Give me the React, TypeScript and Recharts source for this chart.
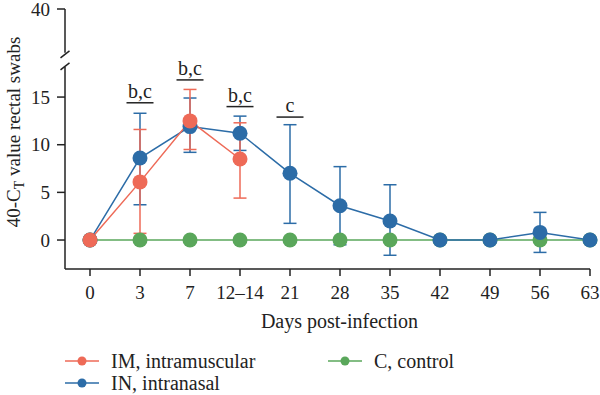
import React from "react";
import {
	ComposedChart,
	Line,
	XAxis,
	YAxis,
	ErrorBar,
	ReferenceLine,
	ReferenceDot,
} from "recharts";

// categories (evenly spaced on the x axis)
const DAY_LABELS = ["0", "3", "7", "12–14", "21", "28", "35", "42", "49", "56", "63"];

// IM, intramuscular (only sampled up to 12–14)
const IM_MEAN = [0, 6.1, 12.5, 8.5];
const IM_LOW = [0, 0.7, 9.5, 4.4];
const IM_HIGH = [0, 11.6, 15.8, 12.3];

// IN, intranasal
const IN_MEAN = [0, 8.6, 11.9, 11.2, 7.0, 3.6, 2.0, 0, 0, 0.8, 0];
const IN_LOW = [0, 3.7, 9.2, 9.4, 1.75, -0.5, -1.6, 0, 0, -1.3, 0];
const IN_HIGH = [0, 13.3, 14.9, 13.0, 12.1, 7.7, 5.8, 0, 0, 2.9, 0];

// C, control
const C_MEAN = [0, 0, 0, 0, 0, 0, 0, 0, 0, 0, 0];

// significance letters above the groups
const ANNOT_INDEX = [1, 2, 3, 4];
const ANNOT_TEXT = ["b,c", "b,c", "b,c", "c"];
const ANNOT_Y = [14.4, 16.8, 14.0, 12.9];

// y ticks; the top one stands for 40 above the axis break
const Y_TICKS = [0, 5, 10, 15];
const Y_MIN = -3.04;
const Y_TOP = 24.24; // position of the "40" tick
const BREAK_MID = 18.9;
const BREAK_GAP = 0.75;

const FONT = "'Liberation Serif', serif";
const RED = "#EE6A57";
const BLUE = "#2C6CA7";
const GREEN = "#5AA75B";
const AXIS = "#222";

const SERIES = [
	{ name: "IM, intramuscular", color: RED },
	{ name: "IN, intranasal", color: BLUE },
	{ name: "C, control", color: GREEN },
];

const imData = IM_MEAN.map((v, i) => ({ idx: i, value: v, err: [v - IM_LOW[i], IM_HIGH[i] - v] }));
const inData = IN_MEAN.map((v, i) => ({ idx: i, value: v, err: [v - IN_LOW[i], IN_HIGH[i] - v] }));
const cData = C_MEAN.map((v, i) => ({ idx: i, value: v }));

const tickStyle = { fontSize: 19, fill: AXIS, fontFamily: FONT };

const YTitle = (props: any) => {
	const vb = props.viewBox || { y: 9, height: 260 };
	const cy = vb.y + vb.height / 2 - 7;
	return (
		<text
			x={20}
			y={cy}
			transform={`rotate(-90 20 ${cy})`}
			textAnchor="middle"
			fontSize={19}
			fill={AXIS}
			fontFamily={FONT}
		>
			<tspan>40-C</tspan>
			<tspan dy={4} fontSize={14}>T</tspan>
			<tspan dy={-4}> value rectal swabs</tspan>
		</text>
	);
};

const AxisBreak = (props: any) => {
	const { cx, cy } = props;
	return (
		<g stroke={AXIS} strokeWidth={1.5}>
			<line x1={cx - 4.5} y1={cy - 2} x2={cx + 4.5} y2={cy - 9} />
			<line x1={cx - 4.5} y1={cy + 10} x2={cx + 4.5} y2={cy + 3} />
		</g>
	);
};

const makeAnnot = (text: string) => (props: any) => {
	const { cx, cy } = props;
	return (
		<g>
			<line x1={cx - 13.5} y1={cy} x2={cx + 13.5} y2={cy} stroke={AXIS} strokeWidth={1.5} />
			<text x={cx} y={cy - 5} textAnchor="middle" fontSize={20} fill={AXIS} fontFamily={FONT}>
				{text}
			</text>
		</g>
	);
};

const LegendItem = ({ name, color }: { name: string; color: string }) => (
	<div style={{ display: "flex", alignItems: "center", height: 22 }}>
		<svg width={34} height={12} style={{ marginRight: 12 }}>
			<line x1={0} y1={6} x2={34} y2={6} stroke={color} strokeWidth={1.5} />
			<circle cx={17} cy={6} r={4.5} fill={color} />
		</svg>
		<span style={{ fontSize: 20, color: AXIS, fontFamily: FONT }}>{name}</span>
	</div>
);

export default function App() {
	return (
		<div style={{ position: "absolute", left: 0, top: 0, width: 600, height: 395, background: "#fff", fontFamily: FONT }}>
			<ComposedChart width={600} height={395} margin={{ top: 9, right: 10, left: 0, bottom: 67 }}>
				<XAxis
					type="number"
					dataKey="idx"
					domain={[-0.5, 10]}
					ticks={DAY_LABELS.map((_, i) => i)}
					tickFormatter={(v: number) => DAY_LABELS[v]}
					interval={0}
					height={59}
					stroke={AXIS}
					strokeWidth={1.5}
					tickSize={7}
					tickMargin={10}
					tick={tickStyle}
					label={{ value: "Days post-infection", position: "insideBottom", offset: 0, dx: 12, fontSize: 20, fill: AXIS, fontFamily: FONT }}
				/>
				<YAxis
					type="number"
					domain={[Y_MIN, Y_TOP]}
					ticks={[...Y_TICKS, Y_TOP]}
					tickFormatter={(v: number) => (v === Y_TOP ? "40" : String(v))}
					interval={0}
					width={65}
					axisLine={false}
					stroke={AXIS}
					tickLine={{ stroke: AXIS, strokeWidth: 1.5 }}
					tickSize={8}
					tickMargin={7}
					tick={tickStyle}
					label={<YTitle />}
				/>

				{/* broken y axis line */}
				<ReferenceLine
					segment={[{ x: -0.5, y: Y_MIN }, { x: -0.5, y: BREAK_MID - BREAK_GAP }]}
					stroke={AXIS}
					strokeWidth={1.5}
					ifOverflow="visible"
				/>
				<ReferenceLine
					segment={[{ x: -0.5, y: BREAK_MID + BREAK_GAP }, { x: -0.5, y: Y_TOP }]}
					stroke={AXIS}
					strokeWidth={1.5}
					ifOverflow="visible"
				/>
				<ReferenceDot x={-0.5} y={BREAK_MID} ifOverflow="visible" shape={AxisBreak} />

				<Line
					data={cData}
					dataKey="value"
					stroke={GREEN}
					strokeWidth={1.5}
					dot={{ r: 7.5, fill: GREEN, stroke: GREEN, strokeWidth: 0 }}
					isAnimationActive={false}
				/>
				<Line
					data={inData}
					dataKey="value"
					stroke={BLUE}
					strokeWidth={1.5}
					dot={{ r: 7.5, fill: BLUE, stroke: BLUE, strokeWidth: 0 }}
					isAnimationActive={false}
				>
					<ErrorBar dataKey="err" direction="y" width={6.5} stroke={BLUE} strokeWidth={1.5} isAnimationActive={false} />
				</Line>
				<Line
					data={imData}
					dataKey="value"
					stroke={RED}
					strokeWidth={1.5}
					dot={{ r: 7.5, fill: RED, stroke: RED, strokeWidth: 0 }}
					isAnimationActive={false}
				>
					<ErrorBar dataKey="err" direction="y" width={6.5} stroke={RED} strokeWidth={1.5} isAnimationActive={false} />
				</Line>

				{ANNOT_INDEX.map((x, i) => (
					<ReferenceDot key={i} x={x} y={ANNOT_Y[i]} ifOverflow="visible" shape={makeAnnot(ANNOT_TEXT[i])} />
				))}
			</ComposedChart>

			<div style={{ position: "absolute", left: 65, top: 350 }}>
				<LegendItem {...SERIES[0]} />
				<LegendItem {...SERIES[1]} />
			</div>
			<div style={{ position: "absolute", left: 328, top: 350 }}>
				<LegendItem {...SERIES[2]} />
			</div>
		</div>
	);
}
